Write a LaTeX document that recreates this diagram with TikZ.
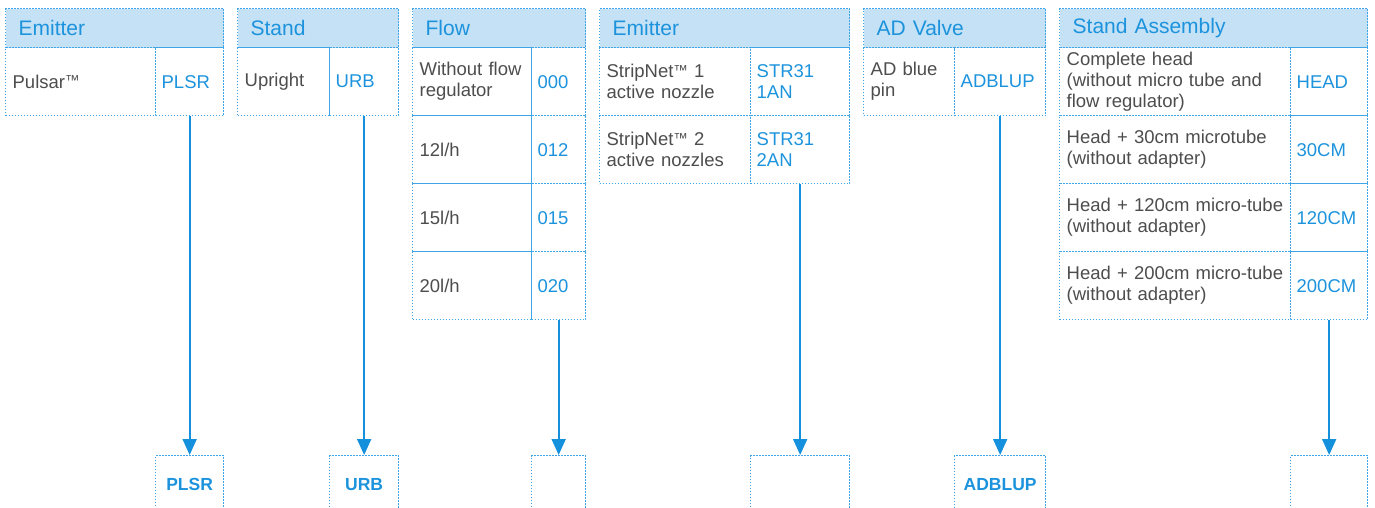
\documentclass[tikz,border=0pt]{standalone}
\usepackage{fontspec}
\setmainfont{Liberation Sans}
\usetikzlibrary{arrows.meta}
\definecolor{headfill}{HTML}{C4E1F6}
\definecolor{bluet}{HTML}{1C93DC}
\definecolor{linec}{HTML}{3FA5E6}
\definecolor{arrowc}{HTML}{1590DC}
\definecolor{grayt}{HTML}{4D4D4D}
\newcommand{\bodyf}{\fontsize{18.5}{21}\selectfont}
\newcommand{\headf}{\fontsize{21}{25}\selectfont}
\newcommand{\botf}{\fontsize{17.5}{21}\selectfont\bfseries}
\newcommand{\tmk}{{\fontsize{14.5}{12}\selectfont\raisebox{2.5pt}{™}}}
\tikzset{
  dotline/.style={draw=linec, line width=1.3pt, dash pattern=on 1.2pt off 1.8pt},
  headcell/.style={dotline, fill=headfill, anchor=north west, inner xsep=13pt, inner ysep=0pt,
    text width=#1, minimum height=39pt, align=left, font=\headf, text=bluet},
  lcell/.style={dotline, anchor=north west, inner xsep=7pt, inner ysep=0pt,
    text width=#1, minimum height=68pt, align=left, font=\bodyf, text=grayt},
  vcell/.style={dotline, anchor=north west, inner xsep=6pt, inner ysep=0pt,
    text width=#1, minimum height=68pt, align=left, font=\bodyf, text=bluet},
  botcell/.style={dotline, anchor=north west, inner sep=0pt,
    minimum width=#1, minimum height=58pt, align=center, font=\botf, text=bluet},
  conn/.style={draw=arrowc, line width=1.8pt, -{Triangle[width=14pt,length=16pt]}}
}
\begin{document}
\begin{tikzpicture}[x=1pt,y=-1pt]
\useasboundingbox (0,0) rectangle (1375,507);
\clip (0,0) rectangle (1375,507);
% Table 1: Emitter
\node[headcell=192pt] (h1) at (5,8) {Emitter};
\node[lcell=136pt] (l1a) at (5,47) {Pulsar\tmk};
\node[vcell=56pt] (v1a) at (155,47) {PLSR};
% Table 2: Stand
\node[headcell=135pt] (h2) at (237,8) {Stand};
\node[lcell=78pt] (l2a) at (237,47) {Upright};
\node[vcell=57pt] (v2a) at (329,47) {URB};
% Table 3: Flow
\node[headcell=147pt] (h3) at (412,8) {Flow};
\node[lcell=105pt] (l3a) at (412,47) {Without flow\\regulator};
\node[vcell=42pt] (v3a) at (531,47) {000};
\node[lcell=105pt] (l3b) at (412,115) {12l/h};
\node[vcell=42pt] (v3b) at (531,115) {012};
\node[lcell=105pt] (l3c) at (412,183) {15l/h};
\node[vcell=42pt] (v3c) at (531,183) {015};
\node[lcell=105pt] (l3d) at (412,251) {20l/h};
\node[vcell=42pt] (v3d) at (531,251) {020};
% Table 4: Emitter
\node[headcell=224pt] (h4) at (599,8) {Emitter};
\node[lcell=137pt] (l4a) at (599,47) {StripNet\tmk\ 1\\active nozzle};
\node[vcell=87pt] (v4a) at (750,47) {STR31\\1AN};
\node[lcell=137pt] (l4b) at (599,115) {StripNet\tmk\ 2\\active nozzles};
\node[vcell=87pt] (v4b) at (750,115) {STR31\\2AN};
% Table 5: AD Valve
\node[headcell=156pt] (h5) at (863,8) {AD Valve};
\node[lcell=77pt] (l5a) at (863,47) {AD blue\\pin};
\node[vcell=79pt] (v5a) at (954,47) {ADBLUP};
% Table 6: Stand Assembly
\node[headcell=282pt] (h6) at (1059,8) {Stand Assembly};
\node[lcell=217pt] (l6a) at (1059,47) {Complete head\\(without micro tube and\\flow regulator)};
\node[vcell=65pt] (v6a) at (1290,47) {HEAD};
\node[lcell=217pt] (l6b) at (1059,115) {Head + 30cm microtube\\(without adapter)};
\node[vcell=65pt] (v6b) at (1290,115) {30CM};
\node[lcell=217pt] (l6c) at (1059,183) {Head + 120cm micro-tube\\(without adapter)};
\node[vcell=65pt] (v6c) at (1290,183) {120CM};
\node[lcell=217pt] (l6d) at (1059,251) {Head + 200cm micro-tube\\(without adapter)};
\node[vcell=65pt] (v6d) at (1290,251) {200CM};
% Bottom boxes
\node[botcell=68pt] (b1) at (155,455) {PLSR};
\node[botcell=69pt] (b2) at (329,455) {URB};
\node[botcell=54pt] (b3) at (531,455) {};
\node[botcell=99pt] (b4) at (750,455) {};
\node[botcell=91pt] (b5) at (954,455) {ADBLUP};
\node[botcell=77pt] (b6) at (1290,455) {};
% Connectors
\draw[conn] (v1a.south) -- (b1.north);
\draw[conn] (v2a.south) -- (b2.north);
\draw[conn] (v3d.south) -- (b3.north);
\draw[conn] (v4b.south) -- (b4.north);
\draw[conn] (v5a.south) -- (b5.north);
\draw[conn] (v6d.south) -- (b6.north);
\end{tikzpicture}
\end{document}
